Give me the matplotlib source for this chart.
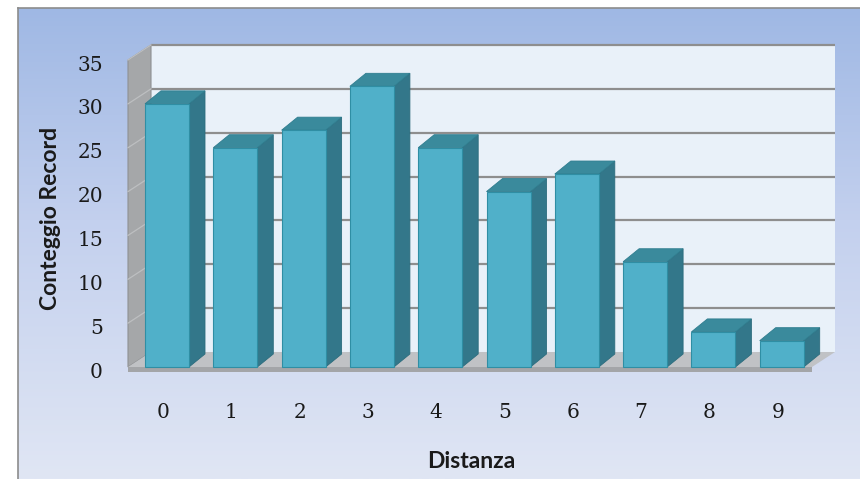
import numpy as np
import matplotlib
matplotlib.use("Agg")
import matplotlib.pyplot as plt
from matplotlib.patches import Polygon
from matplotlib.colors import LinearSegmentedColormap

distanza = ["0", "1", "2", "3", "4", "5", "6", "7", "8", "9"]
conteggio = [30, 25, 27, 32, 25, 20, 22, 12, 4, 3]
y_ticks = [0, 5, 10, 15, 20, 25, 30, 35]
y_max = 35

W, H = 860, 479
fig = plt.figure(figsize=(W / 100, H / 100), dpi=100)
fig.patch.set_facecolor("white")

# chart area background (vertical gradient)
bg = fig.add_axes([18 / W, 0, 1 - 18 / W, 1 - 8 / H])
grad = np.linspace(0, 1, 256).reshape(-1, 1)
cmap = LinearSegmentedColormap.from_list(
    "bg", [(0, "#9fb8e4"), (0.45, "#c3d0ee"), (1, "#e0e6f4")])
bg.imshow(grad, aspect="auto", cmap=cmap, extent=[0, 1, 0, 1], origin="upper")
bg.set_xticks([])
bg.set_yticks([])
for side in ["right", "bottom"]:
    bg.spines[side].set_visible(False)
for side in ["left", "top"]:
    bg.spines[side].set_color("#8c8c8c")
    bg.spines[side].set_linewidth(1.2)

# plot area, front plane in data units
px_x = 68.3   # pixels per category
px_y = 8.767  # pixels per count
x0, x1 = (128 - 167) / px_x, (812 - 167) / px_x
ax = fig.add_axes([128 / W, (H - 367) / H, (812 - 128) / W, (367 - 60) / H])
ax.set_xlim(x0, x1)
ax.set_ylim(0, y_max)
ax.axis("off")

wdx, wdy = 23 / px_x, 15 / px_y   # wall depth
bdx, bdy = 16 / px_x, 13 / px_y   # bar depth
bw = 44 / px_x

# back wall
ax.add_patch(Polygon([(x0 + wdx, wdy), (x1 + wdx, wdy), (x1 + wdx, y_max + wdy),
                      (x0 + wdx, y_max + wdy)], closed=True, fc="#e9f1f9",
                     ec="none", clip_on=False, zorder=1))
# left wall
ax.add_patch(Polygon([(x0, 0), (x0 + wdx, wdy), (x0 + wdx, y_max + wdy),
                      (x0, y_max)], closed=True, fc="#a5a7a9", ec="#8f9193",
                     lw=0.8, clip_on=False, zorder=1))
# floor
ax.add_patch(Polygon([(x0, 0), (x1, 0), (x1 + wdx, wdy), (x0 + wdx, wdy)],
                     closed=True, fc="#c0c2c5", ec="none", clip_on=False, zorder=1))
ax.add_patch(Polygon([(x0, 0), (x1, 0), (x1, -5 / px_y), (x0, -5 / px_y)],
                     closed=True, fc="#a3a5a8", ec="none", clip_on=False, zorder=1))

# gridlines
for v in y_ticks[1:]:
    ax.plot([x0 + wdx, x1 + wdx], [v + wdy, v + wdy], color="#8e8e8e", lw=1.6,
            solid_capstyle="butt", clip_on=False, zorder=2)
    ax.plot([x0, x0 + wdx], [v, v + wdy], color="#bdbfc1", lw=0.9,
            clip_on=False, zorder=2)

# bars
xs = np.arange(len(conteggio))
ax.bar(xs, conteggio, width=bw, color="#50b0c9", edgecolor="#2f8ea4",
       linewidth=0.8, zorder=4, clip_on=False)
for x, v in zip(xs, conteggio):
    r, l = x + bw / 2, x - bw / 2
    ax.add_patch(Polygon([(r, 0), (r + bdx, bdy), (r + bdx, v + bdy), (r, v)],
                         closed=True, fc="#33778a", ec="#2c6c7d", lw=0.6,
                         clip_on=False, zorder=3))
    ax.add_patch(Polygon([(l, v), (r, v), (r + bdx, v + bdy), (l + bdx, v + bdy)],
                         closed=True, fc="#3a8a9c", ec="#2f7d8f", lw=0.6,
                         clip_on=False, zorder=3))

# tick labels
for v in y_ticks:
    ax.text((103 - 167) / px_x, v - 5 / px_y, str(v), ha="right", va="center",
            fontsize=14.5, family="DejaVu Serif", color="#1a1a1a", clip_on=False)
for x, lab in zip(xs, distanza):
    ax.text(x - 4 / px_x, -45 / px_y, lab, ha="center", va="center",
            fontsize=14.5, family="DejaVu Serif", color="#1a1a1a", clip_on=False)

fig.text(471 / W, 1 - 461 / H, "Distanza", ha="center", va="center",
         fontsize=16.5, fontweight="bold", family="Lato", color="#1a1a1a")
fig.text(51 / W, 1 - 218 / H, "Conteggio Record", ha="center", va="center",
         rotation=90, fontsize=16.5, fontweight="bold", family="Lato",
         color="#1a1a1a")

fig.savefig("out.png", dpi=100)
